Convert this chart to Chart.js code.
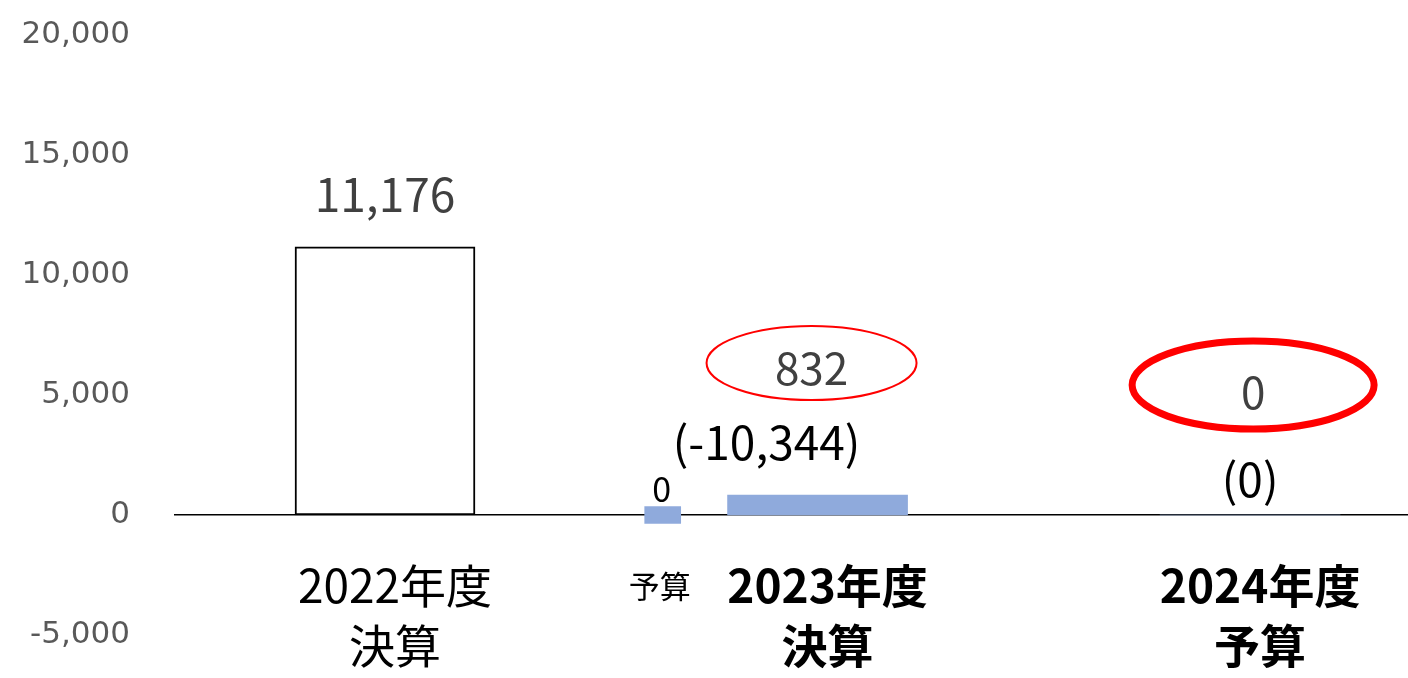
<!DOCTYPE html>
<html lang="ja">
<head>
<meta charset="utf-8">
<script src="https://cdn.jsdelivr.net/npm/chart.js@4.4.1/dist/chart.umd.min.js"></script>
<style>
  html, body { margin: 0; padding: 0; background: #fff; overflow: hidden; }
  #wrap { width: 1408px; height: 678px; }
</style>
</head>
<body>
<div id="wrap"><canvas id="chart" width="1408" height="678"></canvas></div>
<script>
// data
const categories = [['2022年度', '決算'], ['2023年度', '決算'], ['2024年度', '予算']];
const results = [11176, 832, 0];      // 決算 / 予算 (main bars)
const budget = [null, 0, null];       // 2023年度 予算 (small bar)
const diffs = [null, -10344, 0];      // shown in brackets
const circled = [false, true, true];
const yMin = -5000, yMax = 20000, yStep = 5000;

const JP = '"Noto Sans CJK JP", "Noto Sans", sans-serif';
const fmt = (v) => v.toLocaleString('en-US');

// layout tweaks (pixels / axis units, not data)
const budgetShift = -0.358;
const valueLift = [52, 127, 123];
const valueShiftX = [0, -6, 3];
const diffLift = [0, 72, 35];
const diffShiftX = [0, -51, 0];
const ellipses = [null, { dy: -5, rx: 105, ry: 37, lw: 2 }, { dy: -7, rx: 121, ry: 44, lw: 7 }];

const notes = {
  id: 'notes',
  afterDatasetsDraw(chart) {
    const ctx = chart.ctx;
    const bars = chart.getDatasetMeta(0).data;
    const small = chart.getDatasetMeta(1).data;
    const zero = chart.scales.y.getPixelForValue(0);
    ctx.save();
    ctx.textAlign = 'center';
    ctx.textBaseline = 'middle';

    results.forEach((v, i) => {
      const b = bars[i];
      const cx = b.x + valueShiftX[i];
      const cy = b.y - valueLift[i];
      ctx.fillStyle = '#404040';
      ctx.font = (i === 0 ? 46 : 44) + 'px ' + JP;
      ctx.fillText(fmt(v), cx, cy);
      if (circled[i]) {
        const e = ellipses[i];
        ctx.beginPath();
        ctx.ellipse(cx, cy + e.dy, e.rx, e.ry, 0, 0, Math.PI * 2);
        ctx.strokeStyle = '#ff0000';
        ctx.lineWidth = e.lw;
        ctx.stroke();
      }
      if (diffs[i] !== null) {
        ctx.fillStyle = '#000';
        ctx.font = '46px ' + JP;
        ctx.fillText('(' + fmt(diffs[i]) + ')', b.x + diffShiftX[i], zero - diffLift[i]);
      }
    });

    budget.forEach((v, i) => {
      if (v === null) return;
      const b = small[i];
      const top = Math.min(b.y, b.base);
      const bottom = Math.max(b.y, b.base);
      ctx.fillStyle = '#000';
      ctx.font = '34px ' + JP;
      ctx.fillText(fmt(v), b.x - 1, top - 17);
      ctx.font = '31px ' + JP;
      ctx.fillText('予算', b.x - 3, bottom + 63);
    });
    ctx.restore();
  }
};

new Chart(document.getElementById('chart'), {
  type: 'bar',
  data: {
    datasets: [
      {
        label: '決算',
        data: results.map((v, i) => ({ x: i, y: v })),
        backgroundColor: ['#ffffff', '#8faadc', '#8faadc'],
        borderColor: ['#000000', 'rgba(0,0,0,0)', 'rgba(0,0,0,0)'],
        borderWidth: [2, 0, 0],
        borderSkipped: false,
        barThickness: 180,
        grouped: false
      },
      {
        label: '予算',
        data: budget.map((v, i) => ({ x: i + budgetShift, y: v })),
        backgroundColor: '#8faadc',
        borderWidth: 0,
        barThickness: 36,
        minBarLength: 17,
        grouped: false
      }
    ]
  },
  options: {
    responsive: false,
    animation: false,
    layout: { padding: { top: 35, bottom: 43, left: 0, right: 0 } },
    plugins: { legend: { display: false }, tooltip: { enabled: false } },
    scales: {
      x: {
        type: 'linear',
        position: { y: 0 },
        offset: false,
        min: -0.4855,
        max: 2.365,
        z: 1,
        grid: { display: false, drawTicks: false, offset: false },
        border: { display: true, color: '#000000', width: 1.5 },
        afterFit: (scale) => { scale.height = 0; },
        ticks: {
          stepSize: 1,
          includeBounds: false,
          autoSkip: false,
          maxRotation: 0,
          padding: 41,
          labelOffset: 10,
          color: '#000000',
          font: (c) => ({ family: JP, size: 46, lineHeight: 1.3, weight: c.index === 0 ? 'normal' : 'bold' }),
          callback: (v) => categories[v] || ''
        }
      },
      y: {
        min: yMin,
        max: yMax,
        grid: { display: false, drawTicks: false },
        border: { display: false },
        afterFit: (scale) => {
          scale.width = 175;
          scale.paddingTop = 0;
          scale.paddingBottom = 0;
        },
        ticks: {
          stepSize: yStep,
          padding: 45,
          color: '#595959',
          font: { family: '"DejaVu Sans", sans-serif', size: 31 },
          callback: (v) => fmt(v)
        }
      }
    }
  },
  plugins: [notes]
});
</script>
</body>
</html>
